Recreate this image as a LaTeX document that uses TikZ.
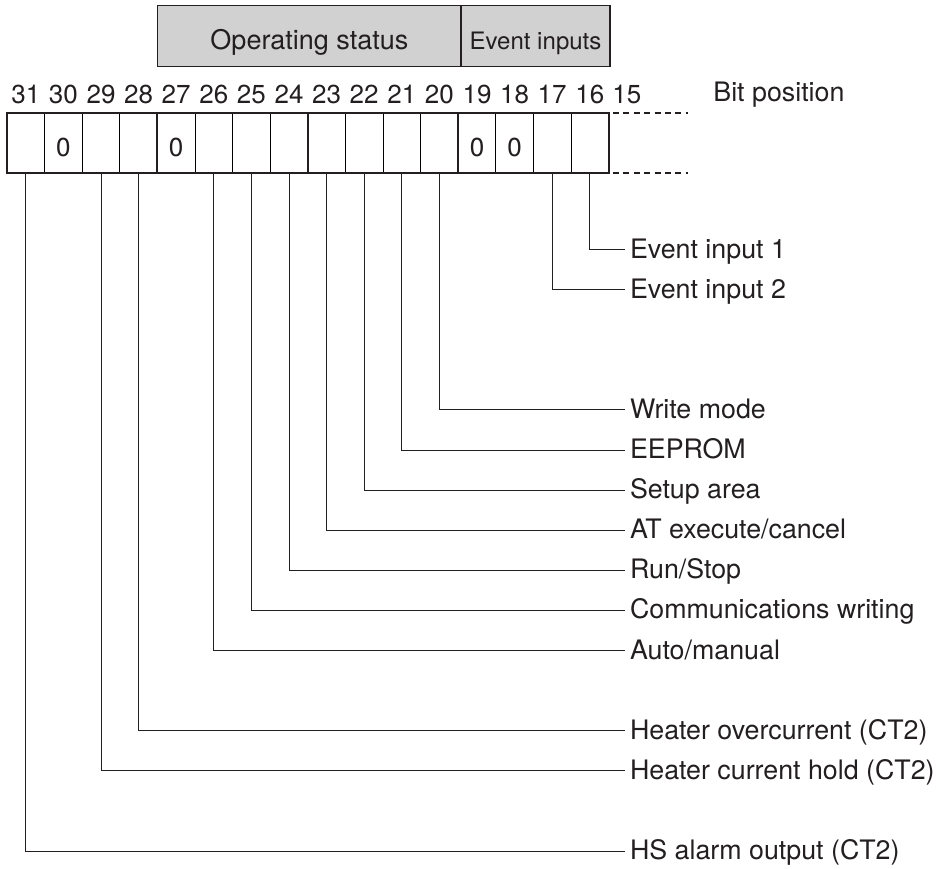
\documentclass[tikz,border=0pt]{standalone}
\usepackage{fontspec}
\setmainfont{TeX Gyre Heros}
\usepackage{xcolor}
\usepackage{tikz}
\usetikzlibrary{matrix}

\definecolor{ink}{HTML}{231F20}
\definecolor{hdrgray}{HTML}{D1D1D1}

\begin{document}
\begin{tikzpicture}[x=.5pt,y=-.5pt,color=ink]
  \useasboundingbox (0,0) rectangle (940,868);
  \tikzstyle{hdr}=[draw=ink, line width=.6pt, fill=hdrgray, minimum height=30.5pt, text height=13.1pt, text depth=0pt, inner sep=0pt, outer sep=0pt] % group headers over the bits
  \tikzstyle{lbl}=[anchor=west, inner sep=2.5pt, outer sep=0pt, text height=8.5pt, text depth=0pt, font=\fontsize{13.4}{15}\selectfont] % bit names on the right
  \tikzstyle{conn}=[draw=ink, line width=.5pt] % leader lines
  \tikzstyle{heavy}=[draw=ink, line width=1pt] % box outline and nibble separators
  \node[hdr, minimum width=151.7pt, font=\fontsize{13.5}{15}\selectfont] (opstat) at (309.4,36.3) {Operating status};
  \node[hdr, minimum width=74.5pt, font=\fontsize{12}{14}\selectfont] (evin) at (535.5,36.3) {Event inputs};
  \node[
    matrix of nodes,
    matrix anchor=r-2-1.north west,
    nodes in empty cells,
    column sep=-.5pt,
    nodes={font=\fontsize{13}{15}\selectfont, minimum width=18.8pt, inner sep=0pt, outer sep=0pt},
    row 1/.style={nodes={minimum height=18.5pt}},
    row 2/.style={nodes={draw, line width=.5pt, minimum height=30pt, text height=13.1pt, text depth=0pt}}
    ]
    (r) at (7,113) {
    31 & 30 & 29 & 28 & 27 & 26 & 25 & 24 & 23 & 22 & 21 & 20 & 19 & 18 & 17 & 16 & 15 \\
       & 0  &    &    & 0  &    &    &    &    &    &    &    & 0  & 0  &    &    \\
  };
  \node[anchor=base west, inner sep=0pt, font=\fontsize{13.4}{15}\selectfont] (bitpos) at (713,101.7) {Bit position};
  \draw[heavy] (r-2-1.north west) rectangle (r-2-16.south east);
  \foreach \c in {4,8,12}
    \draw[heavy] (r-2-\c.north east) -- (r-2-\c.south east);
  \draw[heavy, dash pattern=on 3pt off 2.2pt, dash phase=3pt] (r-2-16.north east) -- ++(79,0);
  \draw[heavy, dash pattern=on 3pt off 2.2pt, dash phase=3pt] (r-2-16.south east) -- ++(79,0);
  \foreach \b/\txt in {16/Event input 1, 17/Event input 2, 20/Write mode, 21/EEPROM, 22/Setup area, 23/{AT execute/cancel}, 24/{Run/Stop}, 25/Communications writing, 26/{Auto/manual}, 28/Heater overcurrent (CT2), 29/Heater current hold (CT2), 31/HS alarm output (CT2)}{
    \pgfmathtruncatemacro{\col}{32-\b}
    \node[lbl] (l\b) at (625,{249.5+40.1*(\b-16)}) {\txt};
    \draw[conn] (r-2-\col.south) |- (l\b.west);
  }
\end{tikzpicture}
\end{document}
